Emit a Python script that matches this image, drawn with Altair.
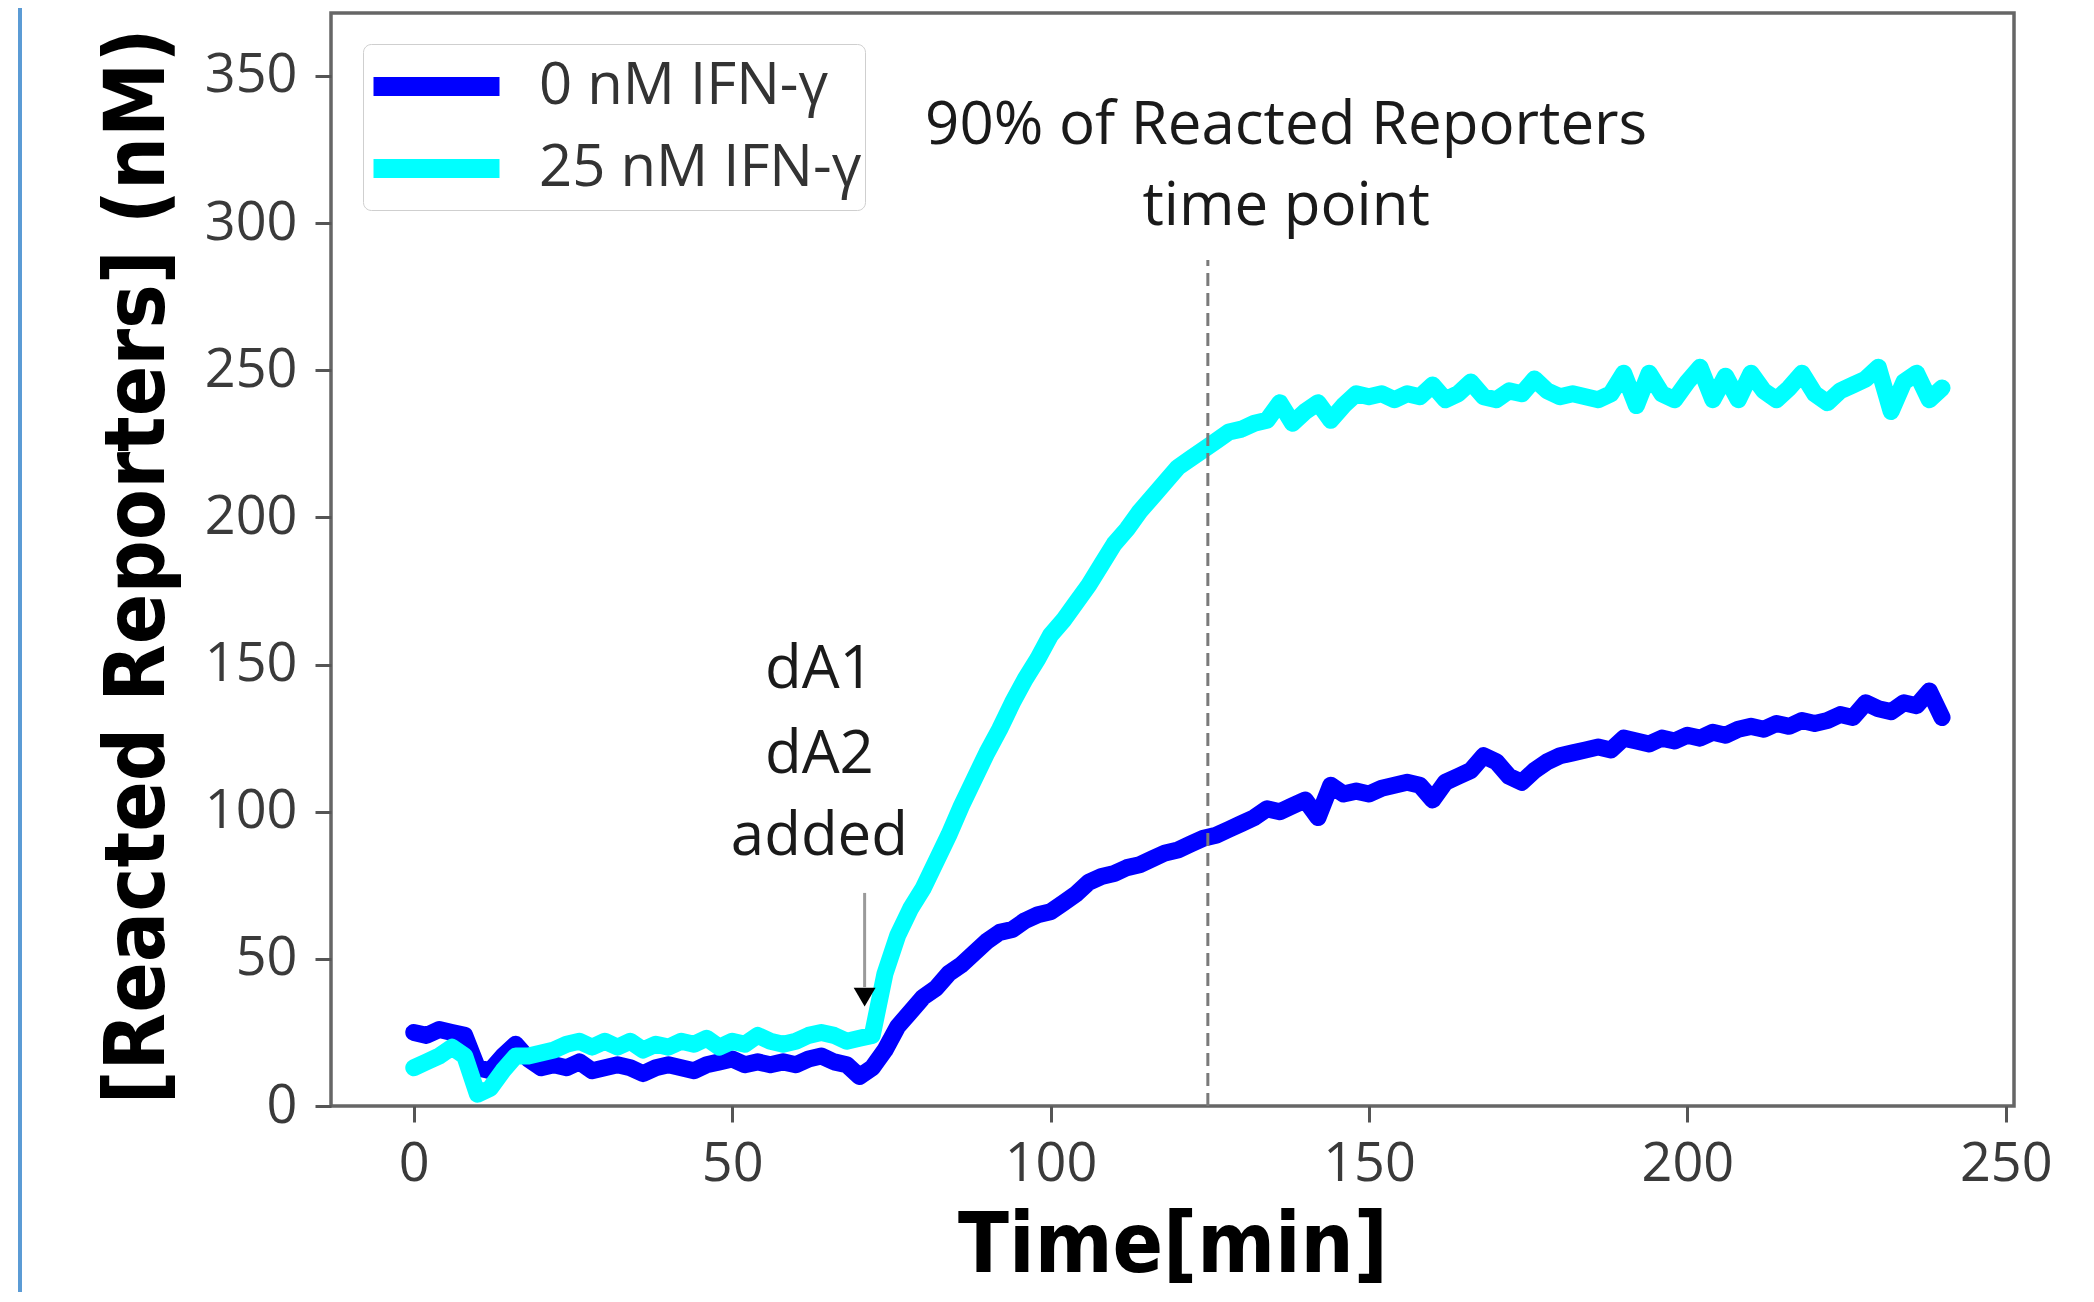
import altair as alt
import pandas as pd

# ---- data ----
time_min = list(range(0, 241, 2))

ifn_0nM = [
    25, 24, 26, 25, 24, 13, 12, 17, 21, 16,
    13, 14, 13, 15, 12, 13, 14, 13, 11, 13,
    14, 13, 12, 14, 15, 16, 14, 15, 14, 15,
    14, 16, 17, 15, 14, 10, 13, 19, 27, 32,
    37, 40, 45, 48, 52, 56, 59, 60, 63, 65,
    66, 69, 72, 76, 78, 79, 81, 82, 84, 86,
    87, 89, 91, 92, 94, 96, 98, 101, 100, 102,
    104, 98, 109, 106, 107, 106, 108, 109, 110, 109,
    104, 110, 112, 114, 119, 117, 112, 110, 114, 117,
    119, 120, 121, 122, 121, 125, 124, 123, 125, 124,
    126, 125, 127, 126, 128, 129, 128, 130, 129, 131,
    130, 131, 133, 132, 137, 135, 134, 137, 136, 141,
    132,
]

ifn_25nM = [
    13, 15, 17, 20, 17, 4, 6, 12, 17, 17,
    18, 19, 21, 22, 20, 22, 20, 22, 19, 21,
    20, 22, 21, 23, 20, 22, 21, 24, 22, 21,
    22, 24, 25, 24, 22, 23, 24, 45, 58, 67,
    74, 83, 92, 102, 111, 120, 128, 137, 145, 152,
    160, 165, 171, 177, 184, 191, 196, 202, 207, 212,
    217, 220, 223, 226, 229, 230, 232, 233, 239, 232,
    236, 239, 233, 238, 242, 241, 242, 240, 242, 241,
    245, 240, 242, 246, 241, 240, 243, 242, 247, 243,
    241, 242, 241, 240, 242, 249, 238, 249, 242, 240,
    246, 251, 240, 248, 240, 249, 243, 240, 244, 249,
    242, 239, 243, 245, 247, 251, 236, 246, 249, 240,
    244,
]

series_names = ["0 nM IFN-γ", "25 nM IFN-γ"]
series_colors = ["#0000ff", "#00ffff"]

x_ticks = [0, 50, 100, 150, 200, 250]
y_ticks = [0, 50, 100, 150, 200, 250, 300, 350]

marker_time = [124.7]
marker_top = [287.5]

note_text = ["90% of Reacted Reporters", "time point", "dA1", "dA2", "added"]
note_x = [137, 137, 63.7, 63.7, 63.7]
note_y = [333, 305.5, 148.1, 119.3, 91.5]

arrow_x = [70.8]
arrow_top = [72.4]
arrow_bottom = [40.4]
arrow_head = [37]

# ---- tables ----
df = pd.DataFrame({
    "time": time_min + time_min,
    "value": ifn_0nM + ifn_25nM,
    "series": [series_names[0]] * len(time_min) + [series_names[1]] * len(time_min),
})
df_vline = pd.DataFrame({"time": marker_time, "value": [0], "value2": marker_top})
df_notes = pd.DataFrame({"time": note_x, "value": note_y, "text": note_text})
df_arrow = pd.DataFrame({"time": arrow_x, "value": arrow_top, "value2": arrow_bottom, "head": arrow_head})

x_scale = alt.Scale(domain=[-13, 251.3], nice=False, zero=False)
y_scale = alt.Scale(domain=[0, 371.4], nice=False, zero=False)

label_font = "Open Sans"
title_font = "DejaVu Sans Condensed, DejaVu Sans"

x_axis = alt.Axis(
    values=x_ticks, title="Time[min]", grid=False, domain=False,
    labelFont=label_font, labelFontSize=54, labelColor="#3a3a3a", labelPadding=15,
    labelFlush=False, labelOverlap=False,
    tickSize=16, tickWidth=3, tickColor="#555555",
    titleFont=title_font, titleFontWeight="bold", titleFontSize=83, titleColor="#000000",
    titleY=165, titleBaseline="alphabetic",
)
y_axis = alt.Axis(
    values=y_ticks, title="[Reacted Reporters] (nM)", grid=False, domain=False,
    labelFont=label_font, labelFontSize=54, labelColor="#3a3a3a", labelPadding=18,
    labelFlush=False, labelOverlap=False,
    tickSize=16, tickWidth=3, tickColor="#555555",
    titleFont=title_font, titleFontWeight="bold", titleFontSize=83, titleColor="#000000",
    titleX=-168, titleY=553, titleAngle=270, titleBaseline="alphabetic", titleAlign="center",
)

X = lambda f: alt.X(f, scale=x_scale, axis=x_axis)
Y = lambda f: alt.Y(f, scale=y_scale, axis=y_axis)

legend = alt.Legend(
    title=None, orient="none", legendX=32, legendY=31,
    symbolType="M-2.1,0L2.1,0", symbolSize=3600, symbolStrokeWidth=19,
    symbolOffset=31, labelOffset=63, padding=3, rowPadding=4, labelLimit=800,
    labelFont=label_font, labelFontSize=58, labelColor="#333333",
    fillColor="#ffffff", strokeColor="#cfcfcf", cornerRadius=8,
)

lines = alt.Chart(df).mark_line(strokeWidth=17, strokeJoin="round", strokeCap="round").encode(
    x=X("time:Q"),
    y=Y("value:Q"),
    color=alt.Color("series:N", scale=alt.Scale(domain=series_names, range=series_colors), legend=legend),
)

vline = alt.Chart(df_vline).mark_rule(color="#7a7a7a", strokeWidth=3, strokeDash=[13, 7]).encode(
    x=X("time:Q"), y=Y("value:Q"), y2="value2:Q",
)

notes = alt.Chart(df_notes).mark_text(
    font=label_font, fontSize=60, color="#1a1a1a", align="center", baseline="middle"
).encode(
    x=X("time:Q"), y=Y("value:Q"), text="text:N",
)

shaft = alt.Chart(df_arrow).mark_rule(color="#9a9a9a", strokeWidth=3).encode(
    x=X("time:Q"), y=Y("value:Q"), y2="value2:Q",
)

head = alt.Chart(df_arrow).mark_point(
    shape="triangle-down", filled=True, color="#000000", size=480, opacity=1
).encode(
    x=X("time:Q"), y=Y("head:Q"),
)

stripe = alt.Chart(pd.DataFrame({"k": [0]})).mark_rule(color="#5b9bd5", strokeWidth=4).encode(
    x=alt.value(-311), y=alt.value(-20), y2=alt.value(1300)
)

chart = alt.layer(lines, vline, notes, shaft, head, stripe).properties(
    width=1683, height=1093,
    padding={"left": 323, "top": 5, "right": 60, "bottom": 186},
    autosize=alt.AutoSizeParams(type="none"),
    background="white",
).configure_view(stroke="#666666", strokeWidth=3.5)

chart.save("out.html", embed_options={"renderer": "svg", "actions": False})
